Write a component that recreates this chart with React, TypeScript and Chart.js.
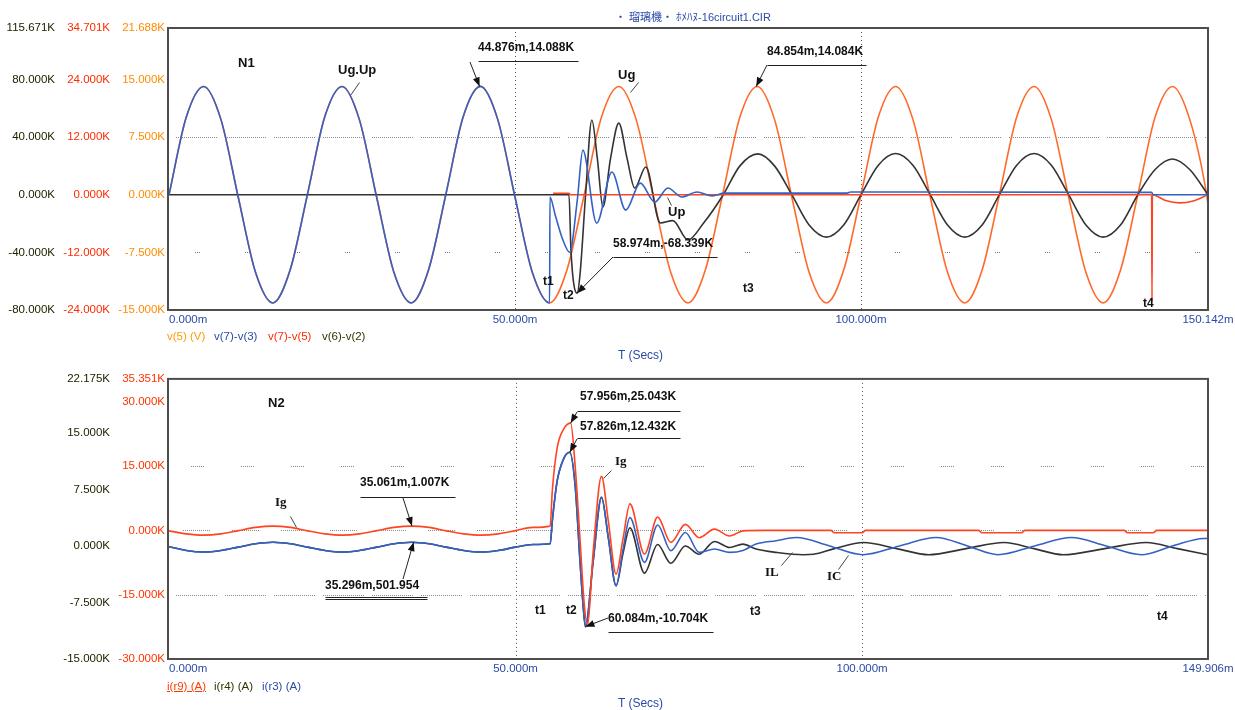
import React, { useEffect, useRef } from 'react';
import { Chart, registerables } from 'chart.js';
Chart.register(...registerables);

// ---------------- DATA (time in ms, values in K) ----------------
const T_GRID = [0, 2.5, 5, 7.5, 10, 12.5, 15, 17.5, 20, 22.5, 25, 27.5, 30, 32.5, 35, 37.5, 40, 42.5, 45, 47.5,
  50, 52.5, 55, 57.5, 60, 62.5, 65, 67.5, 70, 72.5, 75, 77.5, 80, 82.5, 85, 87.5, 90, 92.5, 95, 97.5,
  100, 102.5, 105, 107.5, 110, 112.5, 115, 117.5, 120, 122.5, 125, 127.5, 130, 132.5, 135, 137.5, 140, 142.5, 145, 147.5, 150, 150.142];

// v(5) (V) — Ug
const ugValues = [
  0, 10.1, 14.08, 9.8, -0.3, -10.1, -14.08, -9.8,
  0, 10.1, 14.08, 9.8, -0.3, -10.1, -14.08, -9.8,
  0, 10.1, 14.088, 9.8, -0.3, -10.1, -14.08, -9.8,
  0, 10.1, 14.08, 9.8, -0.3, -10.1, -14.08, -9.8,
  0, 10.1, 14.084, 9.8, -0.3, -10.1, -14.08, -9.8,
  0, 10.1, 14.08, 9.8, -0.3, -10.1, -14.08, -9.8,
  0, 10.1, 14.08, 9.8, -0.3, -10.1, -14.08, -9.8,
  0, 10.1, 14.08, 9.8, -0.3,
  -1.3];

// v(7)-v(3) — Up
const upTimes = [0, 2.5, 5, 7.5, 10, 12.5, 15, 17.5, 20, 22.5, 25, 27.5, 30, 32.5, 35, 37.5, 40, 42.5, 45, 47.5, 50, 52.5,
  55.0, 55.05, 55.8, 56.8, 57.9, 59.0, 59.8, 61.8, 64.0, 66.0, 68.1, 70.2, 72.1, 74.1, 76.3, 78.5, 80.3, 98.0, 98.5, 142.0, 142.2, 150.142];
const upValues = [0, 10.1, 14.08, 9.8, -0.3, -10.1, -14.08, -9.8, 0, 10.1, 14.08, 9.8, -0.3, -10.1, -14.08, -9.8, 0, 10.1, 14.088, 9.8, -0.3, -10.1,
  -14.08, -0.3, -2.6, -5.6, -7.5, -0.7, 5.8, -3.7, 2.95, -2.0, 1.5, -0.95, 0.87, -0.3, 0.35, -0.15, 0.2, 0.2, 0.35, 0.3, 0, 0];

// v(7)-v(5)
const v75Times = [55.5, 57.8, 58.0, 142.0, 142.05, 142.1, 144, 146, 148, 150.142];
const v75Values = [0.3, 0.3, 0, 0, -22.3, 0, -1.2, -1.7, -1.3, 0];

// v(6)-v(2)
const v62Times = [0, 57.8, 58.1, 58.974, 59.4, 60.2, 61.1, 61.9, 62.7, 63.8, 65.0, 66.2, 67.3, 68.9, 71.0, 72.8, 75.0, 77.2, 80.1,
  82.5, 85.1, 87.5, 90, 92.5, 95, 97.5, 100, 102.5, 105, 107.5, 110, 112.5, 115, 117.5, 120, 122.5, 125, 127.5, 130, 132.5,
  135, 137.5, 140, 142.5, 145, 147.5, 150.142];
const v62Values = [0, 0, -40, -68.339, -55, 0, 51.8, 25, -8.5, 25, 49.7, 25, 4.6, 19.2, -19.6, -18, -31.4, -20, 0,
  20, 28.3, 20, 0, -21, -29.4, -21, 0, 20.5, 28.6, 20.5, 0, -21, -29.4, -21, 0, 20.5, 28.6, 20.5, 0, -21,
  -29.4, -21, 0, 17.5, 24.8, 17.5, 0];

// i(r9) — Ig
const igTimes = [0, 2.5, 5, 7.5, 10, 12.5, 15, 17.5, 20, 22.5, 25, 27.5, 30, 32.5, 35, 37.5, 40, 42.5, 45, 47.5, 50, 52.5, 55,
  55.3, 56.0, 57.0, 57.956, 58.6, 59.3, 59.9, 60.4, 61.2, 62.4,
  63.4, 64.5, 65.5, 66.5, 68.6, 70.5, 72.4, 74.5, 76.5, 78.7,
  80.9, 82.8, 86, 95.5, 96, 100, 100.5, 116.8, 117.3, 123,
  123.5, 137.8, 138.3, 142, 142.5, 149.906];
const igValues = [-0.1, -0.8, -1.1, -0.8, -0.05, 0.7, 1.0, 0.7, -0.1, -0.8, -1.1, -0.8, -0.05, 0.7, 1.007, 0.7, -0.1, -0.8, -1.1, -0.8, -0.05, 0.7, 1.0,
  9.2, 19.2, 23.8, 25.043, 15, -2, -17, -22.1, -5, 12.6,
  2, -10.2, -2, 6.2, -5.5, 3.1, -2.8, 1.4, -1.7, 0.3,
  -1.3, -0.1, 0, 0, -0.55, -0.55, 0, 0, -0.55, -0.55,
  0, 0, -0.55, -0.55, 0, 0];

// i(r3) — IC
const icTimes = [0, 2.5, 5, 7.5, 10, 12.5, 15, 17.5, 20, 22.5, 25, 27.5, 30, 32.5, 35, 37.5, 40, 42.5, 45, 47.5, 50, 52.5, 55,
  55.3, 56.0, 57.0, 57.826, 58.6, 59.3, 59.8, 60.084, 61.2, 62.4,
  63.4, 64.5, 65.5, 66.5, 68.6, 70.5, 72.4, 74.5, 76.5, 78.7,
  80.9, 82.8, 84.7, 87.6, 90.5, 95.3, 100.1, 105.4, 110.7, 115.2,
  119.6, 124.9, 130.2, 135.2, 140.3, 144.8, 149.3, 149.906];
const icValues = [-0.1, -0.6, -0.8, -0.6, -0.15, 0.3, 0.5, 0.3, -0.15, -0.6, -0.8, -0.6, -0.15, 0.3, 0.502, 0.3, -0.15, -0.6, -0.8, -0.6, -0.15, 0.2, 0.3,
  3.3, 8.6, 11.7, 12.432, 8, -2, -8.5, -10.704, -2, 6.39,
  1, -5.25, -0.5, 3.76, -2.17, 2.79, -0.63, 1.78, -0.85, -0.4,
  -0.85, -0.6, 0.25, 0.7, 1.12, 0, -1.16, 0, 1.12, 0,
  -1.16, 0, 1.12, 0, -1.16, 0, 1.0, 0.98];

// i(r4) — IL
const ilTimes = [0, 2.5, 5, 7.5, 10, 12.5, 15, 17.5, 20, 22.5, 25, 27.5, 30, 32.5, 35, 37.5, 40, 42.5, 45, 47.5, 50, 52.5, 55,
  55.3, 56.0, 57.0, 57.826, 58.6, 59.3, 59.8, 60.084, 61.2, 62.4,
  63.4, 64.5, 65.5, 66.5, 68.6, 70.5, 72.4, 74.5, 76.5, 78.7,
  80.9, 82.8, 84.7, 87.6, 91.5, 93, 96, 100.2, 105, 109.6,
  115, 120.5, 124.8, 129, 135, 141, 145.5, 149.906];
const ilValues = [-0.1, -0.6, -0.8, -0.6, -0.15, 0.3, 0.5, 0.3, -0.15, -0.6, -0.8, -0.6, -0.15, 0.3, 0.5, 0.3, -0.15, -0.6, -0.8, -0.6, -0.15, 0.2, 0.3,
  3.3, 8.6, 11.7, 12.4, 8, -2, -8.5, -10.7, -2, 6.5,
  1, -5.3, -1, 2.4, -3.6, 0.2, -2.3, 0, -1.1, 0.6,
  -0.2, 0.25, -0.4, -0.85, -1.16, -1.1, -0.35, 0.46, -0.35, -1.16,
  -0.35, 0.46, -0.35, -1.16, -0.35, 0.46, -0.35, -1.16];

// Axis ticks
const TOP_X_TICKS = [0, 50, 100, 150.142];
const BOT_X_TICKS = [0, 50, 100, 149.906];
const TOP_K_TICKS = [-80, -40, 0, 40, 80, 115.671];
const TOP_R_TICKS = [-24, -12, 0, 12, 24, 34.701];
const TOP_O_TICKS = [-15, -7.5, 0, 7.5, 15, 21.688];
const BOT_K_TICKS = [-15, -7.5, 0, 7.5, 15, 22.175];
const BOT_R_TICKS = [-30, -15, 0, 15, 30, 35.351];

// ---------------- STYLE ----------------
const TICK_FONT = "'Liberation Sans', Arial, sans-serif";
const TICK_SIZE = 11.5;
const BOLD = "bold 12px 'Liberation Sans', Arial, sans-serif";
const BOLD13 = "bold 13px 'Liberation Sans', Arial, sans-serif";
const SERIF = "bold 13px 'Liberation Serif', 'Times New Roman', serif";
const BLUE_TXT = '#2a4aa8';

const C_ORANGE = '#ff6a2a';
const C_BLUE = '#3462c4';
const C_RED = '#ff4422';
const C_BLACK = '#333333';

const pts = (t: number[], v: number[]) => t.map((x, i) => ({ x, y: v[i] }));

const dots = (n: number, gap: number) => {
  const a: number[] = [];
  for (let i = 0; i < n; i++) a.push(1, 1);
  a[a.length - 1] = gap;
  return a;
};

function yAxis(min: number, max: number, ticks: number[], color: string) {
  return {
    type: 'linear', position: 'left', min, max,
    afterBuildTicks: (s: any) => { s.ticks = ticks.map((v) => ({ value: v })); },
    afterFit: (s: any) => { s.width = 55; },
    ticks: {
      color, padding: 4, font: { family: TICK_FONT, size: TICK_SIZE },
      callback: (v: any) => Number(v).toFixed(3) + 'K',
    },
    grid: { display: false, drawTicks: false },
    border: { display: false },
  };
}

function xAxis(max: number, ticks: number[]) {
  return {
    type: 'linear', position: 'bottom', min: 0, max,
    afterBuildTicks: (s: any) => { s.ticks = ticks.map((v) => ({ value: v })); },
    afterFit: (s: any) => { s.height = 22; s.paddingLeft = 0; s.paddingRight = 0; },
    ticks: {
      color: BLUE_TXT, padding: 3, maxRotation: 0, autoSkip: false,
      font: { family: TICK_FONT, size: TICK_SIZE },
      callback: (v: any) => (Number(v) === 0 ? ' '.repeat(12) + '0.000m' : Number(v).toFixed(3) + 'm'),
    },
    grid: { display: false, drawTicks: false },
    border: { display: false },
  };
}

function ds(data: any[], color: string, yAxisID: string, order: number) {
  return {
    data, borderColor: color, backgroundColor: color, borderWidth: 1.6, pointRadius: 0,
    cubicInterpolationMode: 'monotone', yAxisID, order, fill: false,
  };
}

const framePlugin = {
  id: 'frame',
  beforeDatasetsDraw(chart: any, _a: any, opts: any) {
    const { ctx, chartArea: a } = chart;
    ctx.save();
    ctx.lineWidth = 1;
    for (const g of opts.hLines || []) {
      const y = Math.round(chart.scales[g.axis].getPixelForValue(g.value)) + 0.5;
      ctx.strokeStyle = g.color;
      ctx.setLineDash(g.dash);
      ctx.lineDashOffset = g.offset || 0;
      ctx.beginPath(); ctx.moveTo(a.left, y); ctx.lineTo(a.right, y); ctx.stroke();
    }
    for (const v of opts.vLines || []) {
      const x = Math.round(chart.scales.x.getPixelForValue(v)) + 0.5;
      ctx.strokeStyle = '#555';
      ctx.setLineDash([1, 3]);
      ctx.lineDashOffset = 0;
      ctx.beginPath(); ctx.moveTo(x, a.top); ctx.lineTo(x, a.bottom); ctx.stroke();
    }
    ctx.restore();
  },
  afterDatasetsDraw(chart: any, _a: any, opts: any) {
    const { ctx, chartArea: a } = chart;
    const oy = opts.oy || 0;
    ctx.save();
    ctx.setLineDash([]);
    ctx.strokeStyle = '#4d4d4d';
    ctx.lineWidth = 2;
    ctx.strokeRect(a.left - 1, a.top, a.right - a.left + 1, a.bottom - a.top);
    for (const n of opts.notes || []) {
      ctx.fillStyle = n.color || '#111';
      ctx.strokeStyle = n.color || '#222';
      ctx.lineWidth = 1;
      if (n.kind === 'text') {
        ctx.font = n.font;
        ctx.textAlign = 'left';
        ctx.textBaseline = 'middle';
        ctx.fillText(n.s, n.x, n.y - oy);
      } else if (n.kind === 'seg') {
        ctx.lineWidth = n.w || 1;
        ctx.beginPath();
        n.pts.forEach((p: number[], i: number) => {
          const x = p[0] + 0.5, y = p[1] - oy + 0.5;
          if (i) ctx.lineTo(x, y); else ctx.moveTo(x, y);
        });
        ctx.stroke();
      } else if (n.kind === 'arrow') {
        const sx = n.x, sy = n.y - oy;
        const px = chart.scales.x.getPixelForValue(n.tx);
        const py = chart.scales[n.axis].getPixelForValue(n.ty);
        const ang = Math.atan2(py - sy, px - sx);
        ctx.beginPath(); ctx.moveTo(sx, sy); ctx.lineTo(px, py); ctx.stroke();
        const L = 9, W = 3.5;
        const bx = px - L * Math.cos(ang), by = py - L * Math.sin(ang);
        ctx.beginPath();
        ctx.moveTo(px, py);
        ctx.lineTo(bx + W * Math.sin(ang), by - W * Math.cos(ang));
        ctx.lineTo(bx - W * Math.sin(ang), by + W * Math.cos(ang));
        ctx.closePath();
        ctx.fill();
      }
    }
    ctx.restore();
  },
};

const TOP_NOTES = [
  { kind: 'text', x: 238, y: 63, s: 'N1', font: BOLD13 },
  { kind: 'text', x: 338, y: 70, s: 'Ug.Up', font: BOLD13 },
  { kind: 'seg', pts: [[359, 82], [350, 95]], color: '#444' },
  { kind: 'text', x: 478, y: 48, s: '44.876m,14.088K', font: BOLD },
  { kind: 'seg', pts: [[478, 61], [578, 61]] },
  { kind: 'arrow', x: 470, y: 62, tx: 44.876, ty: 14.088, axis: 'yO' },
  { kind: 'text', x: 618, y: 75, s: 'Ug', font: BOLD13 },
  { kind: 'seg', pts: [[638, 82], [630, 92]], color: '#444' },
  { kind: 'text', x: 767, y: 52, s: '84.854m,14.084K', font: BOLD },
  { kind: 'seg', pts: [[767, 65], [866, 65]] },
  { kind: 'arrow', x: 767, y: 65, tx: 84.854, ty: 14.084, axis: 'yO' },
  { kind: 'text', x: 668, y: 212, s: 'Up', font: BOLD13 },
  { kind: 'seg', pts: [[667, 197], [671, 205]], color: '#444' },
  { kind: 'text', x: 613, y: 244, s: '58.974m,-68.339K', font: BOLD },
  { kind: 'seg', pts: [[613, 257], [717, 257]] },
  { kind: 'arrow', x: 613, y: 257, tx: 58.974, ty: -68.339, axis: 'yK' },
  { kind: 'text', x: 543, y: 282, s: 't1', font: BOLD },
  { kind: 'text', x: 563, y: 296, s: 't2', font: BOLD },
  { kind: 'text', x: 743, y: 289, s: 't3', font: BOLD },
  { kind: 'text', x: 1143, y: 304, s: 't4', font: BOLD },
];

const BOT_NOTES = [
  { kind: 'text', x: 268, y: 403, s: 'N2', font: BOLD13 },
  { kind: 'text', x: 275, y: 503, s: 'Ig', font: SERIF },
  { kind: 'seg', pts: [[290, 516], [296, 527]], color: '#444' },
  { kind: 'text', x: 360, y: 483, s: '35.061m,1.007K', font: BOLD },
  { kind: 'seg', pts: [[360, 497], [455, 497]] },
  { kind: 'arrow', x: 403, y: 498, tx: 35.061, ty: 1.007, axis: 'yR' },
  { kind: 'text', x: 325, y: 586, s: '35.296m,501.954', font: BOLD },
  { kind: 'seg', pts: [[325, 597], [427, 597]] },
  { kind: 'seg', pts: [[325, 599], [427, 599]] },
  { kind: 'arrow', x: 403, y: 579, tx: 35.296, ty: 0.502, axis: 'yK' },
  { kind: 'text', x: 580, y: 397, s: '57.956m,25.043K', font: BOLD },
  { kind: 'seg', pts: [[577, 411], [680, 411]] },
  { kind: 'arrow', x: 577, y: 412, tx: 57.956, ty: 25.043, axis: 'yR' },
  { kind: 'text', x: 580, y: 427, s: '57.826m,12.432K', font: BOLD },
  { kind: 'seg', pts: [[577, 438], [680, 438]] },
  { kind: 'arrow', x: 577, y: 439, tx: 57.826, ty: 12.432, axis: 'yK' },
  { kind: 'text', x: 615, y: 462, s: 'Ig', font: SERIF },
  { kind: 'seg', pts: [[611, 470], [603, 478]], color: '#444' },
  { kind: 'text', x: 608, y: 619, s: '60.084m,-10.704K', font: BOLD },
  { kind: 'seg', pts: [[608, 632], [713, 632]] },
  { kind: 'arrow', x: 608, y: 618, tx: 60.084, ty: -10.704, axis: 'yK' },
  { kind: 'text', x: 535, y: 611, s: 't1', font: BOLD },
  { kind: 'text', x: 566, y: 611, s: 't2', font: BOLD },
  { kind: 'text', x: 750, y: 612, s: 't3', font: BOLD },
  { kind: 'text', x: 1157, y: 617, s: 't4', font: BOLD },
  { kind: 'text', x: 765, y: 573, s: 'IL', font: SERIF },
  { kind: 'seg', pts: [[781, 565], [792, 552]], color: '#444' },
  { kind: 'text', x: 827, y: 577, s: 'IC', font: SERIF },
  { kind: 'seg', pts: [[838, 569], [848, 555]], color: '#444' },
];

function topConfig(): any {
  return {
    type: 'line',
    data: {
      datasets: [
        ds(pts(upTimes, upValues), C_BLUE, 'yO', 1),
        ds(pts(v75Times, v75Values), C_RED, 'yR', 2),
        ds(pts(v62Times, v62Values), C_BLACK, 'yK', 3),
        ds(pts(T_GRID, ugValues), C_ORANGE, 'yO', 4),
      ],
    },
    options: {
      responsive: false, animation: false,
      layout: { padding: { left: 4, right: 27, top: 28, bottom: 36 } },
      scales: {
        x: xAxis(150.142, TOP_X_TICKS),
        yO: yAxis(-15, 21.688, TOP_O_TICKS, '#ff8c00'),
        yR: yAxis(-24, 34.701, TOP_R_TICKS, '#ff2a00'),
        yK: yAxis(-80, 115.671, TOP_K_TICKS, '#222200'),
      },
      plugins: {
        legend: { display: false }, tooltip: { enabled: false },
        frame: {
          oy: 0,
          hLines: [
            { axis: 'yO', value: 7.5, dash: dots(21, 8), offset: -7, color: '#8a8a8a' },
            { axis: 'yO', value: -7.5, dash: dots(3, 45), offset: -26, color: '#777' },
          ],
          vLines: [50, 100],
          notes: TOP_NOTES,
        },
      },
    },
    plugins: [framePlugin],
  };
}

function botConfig(): any {
  return {
    type: 'line',
    data: {
      datasets: [
        ds(pts(igTimes, igValues), C_RED, 'yR', 1),
        ds(pts(icTimes, icValues), C_BLUE, 'yK', 2),
        ds(pts(ilTimes, ilValues), C_BLACK, 'yK', 3),
      ],
    },
    options: {
      responsive: false, animation: false,
      layout: { padding: { left: 59, right: 27, top: 9, bottom: 29 } },
      scales: {
        x: xAxis(149.906, BOT_X_TICKS),
        yR: yAxis(-30, 35.351, BOT_R_TICKS, '#ff3300'),
        yK: yAxis(-15, 22.175, BOT_K_TICKS, '#222200'),
      },
      plugins: {
        legend: { display: false }, tooltip: { enabled: false },
        frame: {
          oy: 368,
          hLines: [
            { axis: 'yR', value: 15, dash: dots(7, 37), offset: -22, color: '#8a8a8a' },
            { axis: 'yR', value: 0, dash: dots(14, 22), offset: -14, color: '#8a8a8a' },
            { axis: 'yR', value: -15, dash: dots(21, 8), offset: -7, color: '#8a8a8a' },
          ],
          vLines: [50, 100],
          notes: BOT_NOTES,
        },
      },
    },
    plugins: [framePlugin],
  };
}

const txt = (left: number, cy: number, s: string, color: string, size = 12, extra: any = {}) => (
  <div style={{
    position: 'absolute', left, top: cy - 8, lineHeight: '16px', height: 16, whiteSpace: 'pre',
    fontFamily: TICK_FONT, fontSize: size, color, ...extra,
  }}>{s}</div>
);

export default function App() {
  const topRef = useRef<HTMLCanvasElement>(null);
  const botRef = useRef<HTMLCanvasElement>(null);
  useEffect(() => {
    const c1 = new Chart(topRef.current as HTMLCanvasElement, topConfig());
    const c2 = new Chart(botRef.current as HTMLCanvasElement, botConfig());
    return () => { c1.destroy(); c2.destroy(); };
  }, []);
  return (
    <div style={{ position: 'absolute', left: 0, top: 0, width: 1235, height: 710, background: '#fff', overflow: 'hidden' }}>
      <canvas ref={topRef} width={1235} height={368} style={{ position: 'absolute', left: 0, top: 0, width: 1235, height: 368 }} />
      <canvas ref={botRef} width={1235} height={342} style={{ position: 'absolute', left: 0, top: 368, width: 1235, height: 342 }} />
      {txt(615, 17, '・ 瑠璃機・ ﾎﾒﾊﾇ-16circuit1.CIR', BLUE_TXT, 11, { fontFamily: "'Liberation Sans', 'Noto Sans CJK JP', sans-serif" })}
      {txt(167, 336, 'v(5) (V)', '#ff9a00', 11.5)}
      {txt(214, 336, 'v(7)-v(3)', BLUE_TXT, 11.5)}
      {txt(268, 336, 'v(7)-v(5)', '#ff2a00', 11.5)}
      {txt(322, 336, 'v(6)-v(2)', '#333300', 11.5)}
      {txt(618, 355, 'T (Secs)', BLUE_TXT)}
      {txt(167, 686, 'i(r9) (A)', '#ff3a00', 11.5, { textDecoration: 'underline' })}
      {txt(214, 686, 'i(r4) (A)', '#333300', 11.5)}
      {txt(262, 686, 'i(r3) (A)', BLUE_TXT, 11.5)}
      {txt(618, 703, 'T (Secs)', BLUE_TXT)}
    </div>
  );
}
